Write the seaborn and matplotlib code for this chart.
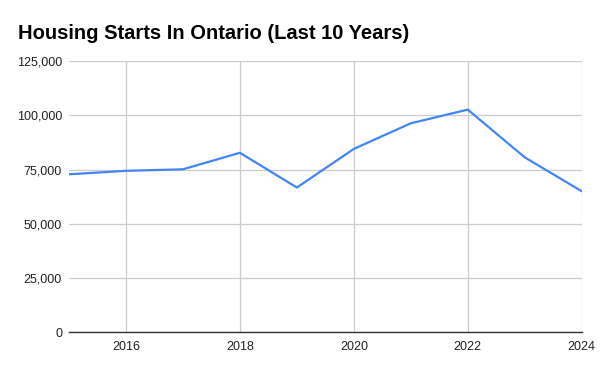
import pandas as pd
import matplotlib.pyplot as plt
import matplotlib.ticker as mticker
import seaborn as sns

# ============================================
# Data
# ============================================
years = [2015, 2016, 2017, 2018, 2019, 2020, 2021, 2022, 2023, 2024]
starts = [72800, 74400, 75100, 82700, 66700, 84500, 96300, 102600, 80600, 65000]
y_ticks = [0, 25000, 50000, 75000, 100000, 125000]
x_ticks = [2016, 2018, 2020, 2022, 2024]

df = pd.DataFrame({"year": years, "starts": starts})

# ============================================
# Style
# ============================================
sns.set_style("white")
plt.rcParams["font.family"] = ["Liberation Sans", "DejaVu Sans"]

fig = plt.figure(figsize=(6, 3.71), dpi=100)
ax = fig.add_axes([0.115, 0.1043, 0.8545, 0.7313])

sns.lineplot(data=df, x="year", y="starts", color="#4285F4",
             linewidth=1.6, ax=ax)

ax.set_xlim(2015, 2024)
ax.set_ylim(0, 125000)
ax.set_xticks(x_ticks)
ax.set_yticks(y_ticks)
ax.yaxis.set_major_formatter(mticker.StrMethodFormatter("{x:,.0f}"))

ax.grid(True, color="#cccccc", linewidth=0.9)
ax.set_axisbelow(True)
for side in ["left", "right", "top"]:
    ax.spines[side].set_visible(False)
ax.spines["bottom"].set_color("#333333")
ax.spines["bottom"].set_linewidth(1.0)

ax.tick_params(axis="both", length=0, labelsize=9, labelcolor="#222222")
ax.tick_params(axis="y", pad=5)
ax.tick_params(axis="x", pad=6)
ax.set_xlabel("")
ax.set_ylabel("")

fig.text(0.03, 0.895, "Housing Starts In Ontario (Last 10 Years)",
         fontsize=14.5, fontweight="bold", color="#000000",
         ha="left", va="baseline")

fig.savefig("out.png", dpi=100)
plt.close(fig)
